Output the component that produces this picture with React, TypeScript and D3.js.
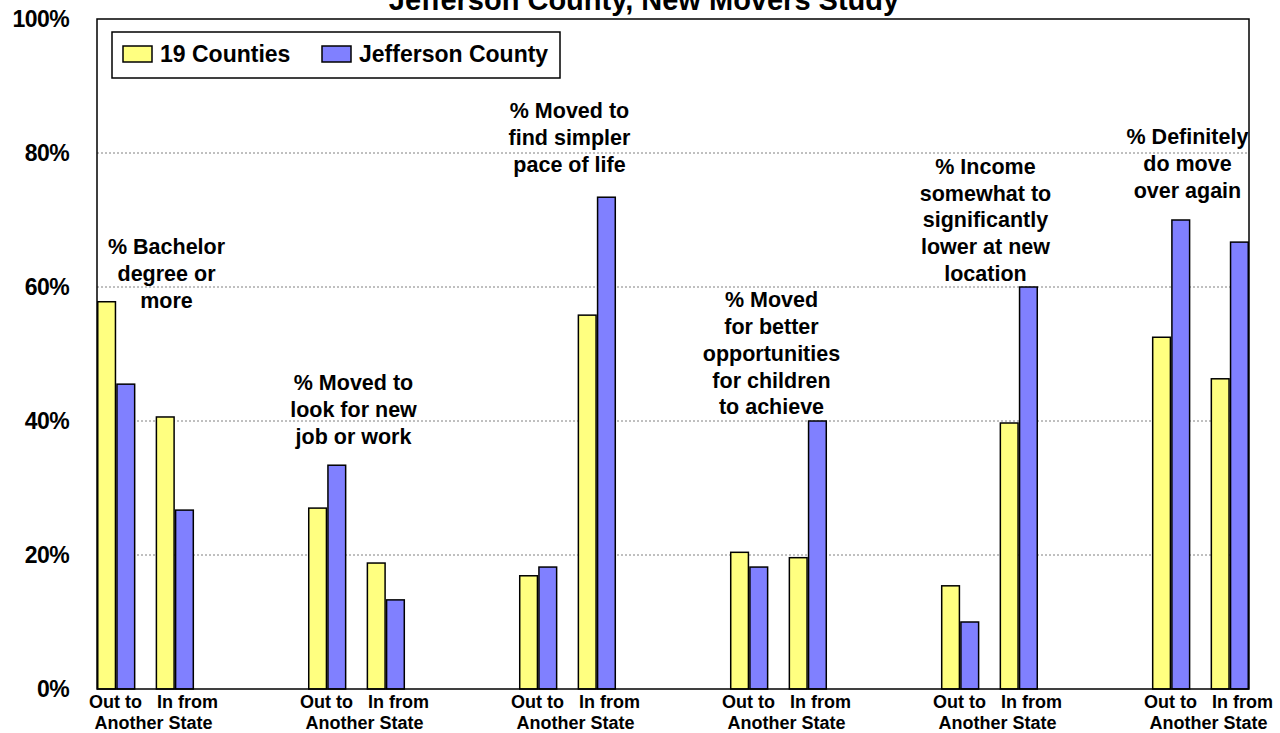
import React from 'react'
import * as d3 from 'd3'

// chart data
const groups = ['bachelor', 'job', 'pace', 'children', 'income', 'again']
const groupNotes = [
  ['% Bachelor', 'degree or', 'more'],
  ['% Moved to', 'look for new', 'job or work'],
  ['% Moved to', 'find simpler', 'pace of life'],
  ['% Moved', 'for better', 'opportunities', 'for children', 'to achieve'],
  ['% Income', 'somewhat to', 'significantly', 'lower at new', 'location'],
  ['% Definitely', 'do move', 'over again'],
]
const directions = ['Out to', 'In from']
const categoryLine1 = 'Out to\u00a0\u00a0\u00a0In from'
const categoryLine2 = 'Another State'
const seriesNames = ['19 Counties', 'Jefferson County']
const seriesColors = ['#FFFF80', '#8080FF']

// [group][direction] values, percent
const counties19 = [
  [57.8, 40.6],
  [27.0, 18.8],
  [16.9, 55.8],
  [20.4, 19.6],
  [15.4, 39.7],
  [52.5, 46.3],
]
const jefferson = [
  [45.5, 26.7],
  [33.4, 13.3],
  [18.2, 73.4],
  [18.2, 40.0],
  [10.0, 60.0],
  [70.0, 66.7],
]
const yTicks = [0, 20, 40, 60, 80, 100]

// where the text notes sit: value of first baseline, and x shift from group centre
const noteTopValue = [64.9, 44.6, 85.2, 57.0, 76.9, 81.3]
const noteShift = [21, -3, 2, -7, -4, -13]

const W = 1280
const H = 733
const margin = { top: 19, right: 31, bottom: 44, left: 97 }
const font = 'Arial, "Liberation Sans", sans-serif'

export default function App() {
  const x0 = d3.scaleBand<string>()
    .domain(groups)
    .range([margin.left, W - margin.right])
    .paddingInner(0.54)
    .paddingOuter(0)
  const x1 = d3.scaleBand<string>()
    .domain(directions)
    .range([0, x0.bandwidth()])
    .paddingInner(0.345)
    .paddingOuter(0)
  const x2 = d3.scaleBand<string>()
    .domain(seriesNames)
    .range([0, x1.bandwidth()])
  const y = d3.scaleLinear().domain([0, 100]).range([H - margin.bottom, margin.top])

  const values = [counties19, jefferson]
  const plotL = margin.left
  const plotR = W - margin.right
  const plotT = y(100)
  const plotB = y(0)

  return (
    <div style={{ position: 'absolute', left: 0, top: 0 }}>
      <svg width={W} height={H} style={{ display: 'block', background: '#fff' }} fontFamily={font}>
        {/* title, cut off at top like the original */}
        <text x={644} y={10} textAnchor="middle" fontSize={29} fontWeight="bold">
          Jefferson County, New Movers Study
        </text>

        {/* gridlines */}
        {yTicks.filter(t => t > 0 && t < 100).map(t => (
          <line key={t} x1={plotL} x2={plotR} y1={y(t)} y2={y(t)}
            stroke="#808080" strokeWidth={1} strokeDasharray="2,2" />
        ))}

        {/* y tick labels */}
        {yTicks.map(t => (
          <text key={t} x={69} y={y(t)} dy="0.36em" textAnchor="end"
            fontSize={23} fontWeight="bold" letterSpacing={-0.6}>{t}%</text>
        ))}

        {/* bars */}
        {groups.map((g, gi) => directions.map((d, di) => seriesNames.map((s, si) => {
          const v = values[si][gi][di]
          const bx = (x0(g) ?? 0) + (x1(d) ?? 0) + (x2(s) ?? 0)
          return (
            <rect key={`${g}-${d}-${s}`} x={bx + 0.75} y={y(v)} width={x2.bandwidth() - 1.5}
              height={y(0) - y(v)} fill={seriesColors[si]} stroke="#000" strokeWidth={1.5} />
          )
        })))}

        {/* plot frame */}
        <rect x={plotL} y={plotT} width={plotR - plotL} height={plotB - plotT}
          fill="none" stroke="#000" strokeWidth={1.5} />

        {/* notes above groups */}
        {groups.map((g, gi) => {
          const cx = (x0(g) ?? 0) + x0.bandwidth() / 2 + noteShift[gi]
          const top = y(noteTopValue[gi])
          return (
            <text key={g} x={cx} y={top} textAnchor="middle" fontSize={21.5} fontWeight="bold">
              {groupNotes[gi].map((line, li) => (
                <tspan key={li} x={cx} y={top + li * 26.8}>{line}</tspan>
              ))}
            </text>
          )
        })}

        {/* category labels */}
        {groups.map(g => {
          const cx = (x0(g) ?? 0) + x0.bandwidth() / 2 + 8
          return (
            <g key={g}>
              <text x={cx} y={708} textAnchor="middle" fontSize={18} fontWeight="bold">{categoryLine1}</text>
              <text x={cx} y={729} textAnchor="middle" fontSize={18} fontWeight="bold">{categoryLine2}</text>
            </g>
          )
        })}

        {/* legend */}
        <g>
          <rect x={112} y={32} width={448} height={46} fill="#fff" stroke="#000" strokeWidth={1.5} />
          {seriesNames.map((s, i) => {
            const lx = i === 0 ? 123 : 322
            return (
              <g key={s}>
                <rect x={lx} y={46} width={29} height={16} fill={seriesColors[i]} stroke="#000" strokeWidth={1.5} />
                <text x={lx + 37} y={54} dy="0.36em" fontSize={23} fontWeight="bold">{s}</text>
              </g>
            )
          })}
        </g>
      </svg>
    </div>
  )
}
